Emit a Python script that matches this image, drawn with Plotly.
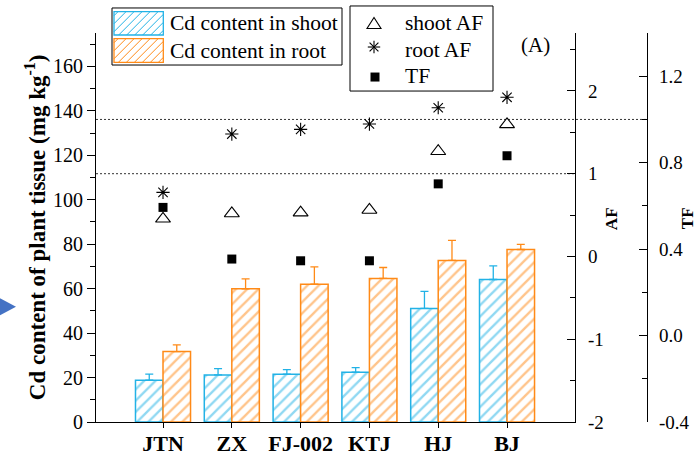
import plotly.graph_objects as go

# ---------------- data ----------------
cultivars = ["JTN", "ZX", "FJ-002", "KTJ", "HJ", "BJ"]
cd_shoot = [18.8, 21.2, 21.5, 22.4, 51.1, 64.1]
cd_shoot_err = [2.7, 2.8, 2.1, 2.1, 7.7, 6.1]
cd_root = [31.7, 59.9, 62.0, 64.6, 72.7, 77.6]
cd_root_err = [3.0, 4.5, 7.8, 4.9, 9.0, 2.3]
shoot_af = [0.455, 0.52, 0.53, 0.562, 1.271, 1.596]
root_af = [0.774, 1.479, 1.536, 1.60, 1.797, 1.923]
tf = [0.593, 0.354, 0.346, 0.346, 0.702, 0.832]

af_tickvals = [-2, -1, 0, 1, 2]
af_ticktext = ["-2", "-1", "0", "1", "2"]
tf_tickvals = [-0.4, 0.0, 0.4, 0.8, 1.2]
tf_ticktext = ["-0.4", "0.0", "0.4", "0.8", "1.2"]

# ---------------- geometry ----------------
W, H = 699, 458
L, R, T, B = 96, 52, 33, 36.3
PW, PH = W - L - R, H - T - B
X_AXIS_END = 575  # pixel x of AF axis


def px(x):
    return (x - L) / PW


def py(y):
    return (H - B - y) / PH


BLUE = "#22b2e6"
ORANGE = "#ff8a17"
FONT = "Liberation Serif, Times New Roman, serif"

fig = go.Figure()

fig.add_trace(go.Bar(
    x=cultivars, y=cd_shoot, name="Cd content in shoot", offset=-0.4, width=0.4,
    marker=dict(color="white", line=dict(color=BLUE, width=1.5),
                pattern=dict(shape="/", fgcolor=BLUE, bgcolor="white", size=8, solidity=0.3)),
    error_y=dict(type="data", array=cd_shoot_err, arrayminus=[0] * len(cd_shoot_err),
                 symmetric=False, color=BLUE, thickness=1.3, width=4),
    showlegend=False,
))
fig.add_trace(go.Bar(
    x=cultivars, y=cd_root, name="Cd content in root", offset=0, width=0.4,
    marker=dict(color="white", line=dict(color=ORANGE, width=1.5),
                pattern=dict(shape="/", fgcolor=ORANGE, bgcolor="white", size=8, solidity=0.3)),
    error_y=dict(type="data", array=cd_root_err, arrayminus=[0] * len(cd_root_err),
                 symmetric=False, color=ORANGE, thickness=1.3, width=4),
    showlegend=False,
))

fig.add_trace(go.Scatter(
    x=cultivars, y=shoot_af, yaxis="y2", mode="markers", name="shoot AF",
    marker=dict(symbol="triangle-up-open", size=13, color="black", line=dict(width=1.1)),
    showlegend=False,
))
fig.add_trace(go.Scatter(
    x=cultivars, y=root_af, yaxis="y2", mode="markers", name="root AF",
    marker=dict(symbol="asterisk-open", size=11, color="black", line=dict(width=1.1)),
    showlegend=False,
))
fig.add_trace(go.Scatter(
    x=cultivars, y=tf, yaxis="y3", mode="markers", name="TF",
    marker=dict(symbol="square", size=9, color="black"),
    showlegend=False,
))

dom_end = (X_AXIS_END - L) / PW

fig.update_layout(
    width=W, height=H,
    margin=dict(l=L, r=R, t=T, b=B, autoexpand=False),
    paper_bgcolor="white", plot_bgcolor="white",
    barmode="overlay",
    font=dict(family=FONT, color="black", size=20),
    showlegend=False,
    xaxis=dict(
        domain=[0, dom_end], type="category", range=[-0.974, 5.988],
        showline=True, linecolor="black", linewidth=1.2,
        ticks="outside", ticklen=5, tickwidth=1.2, tickcolor="black",
        tickfont=dict(family=FONT, size=22, weight="bold"), ticklabelstandoff=-4,
        showgrid=False, zeroline=False,
    ),
    yaxis=dict(
        range=[0, 175], dtick=20, tick0=0,
        showline=True, linecolor="black", linewidth=1.2,
        ticks="outside", ticklen=8, tickwidth=1.2, tickcolor="black",
        minor=dict(dtick=10, ticks="outside", ticklen=5, tickwidth=1.2, tickcolor="black"),
        tickfont=dict(family=FONT, size=20),
        showgrid=False, zeroline=False,
    ),
    yaxis2=dict(
        overlaying="y", anchor="x", side="right",
        range=[-2, 2.7], tickmode="array", tickvals=af_tickvals, ticktext=af_ticktext,
        showline=True, linecolor="black", linewidth=1.2,
        ticks="inside", ticklen=8, tickwidth=1.2, tickcolor="black",
        minor=dict(dtick=0.5, tick0=0, ticks="inside", ticklen=5, tickwidth=1.2, tickcolor="black"),
        tickfont=dict(family=FONT, size=19), ticklabelstandoff=8,
        showgrid=False, zeroline=False,
    ),
    yaxis3=dict(
        overlaying="y", anchor="free", position=1.0, side="right",
        range=[-0.4, 1.4], tickmode="array", tickvals=tf_tickvals, ticktext=tf_ticktext,
        showline=True, linecolor="black", linewidth=1.2,
        ticks="inside", ticklen=8, tickwidth=1.2, tickcolor="black",
        minor=dict(dtick=0.2, tick0=0, ticks="inside", ticklen=5, tickwidth=1.2, tickcolor="black"),
        tickfont=dict(family=FONT, size=19), ticklabelstandoff=7,
        showgrid=False, zeroline=False,
    ),
)

shapes = []
# reference lines: TF = 1 (to TF axis), AF = 1 (to AF axis)
shapes.append(dict(type="line", xref="paper", yref="y3", x0=0, x1=1, y0=1, y1=1,
                   line=dict(color="#333333", width=1, dash="2px,2px"), layer="below"))
shapes.append(dict(type="line", xref="paper", yref="y2", x0=0, x1=dom_end, y0=1, y1=1,
                   line=dict(color="#333333", width=1, dash="2px,2px"), layer="below"))

# legend 1 (bars)
shapes.append(dict(type="rect", xref="paper", yref="paper", x0=px(112), x1=px(342), y0=py(8), y1=py(65),
                   line=dict(color="black", width=1), fillcolor="white", layer="above"))


def hatch_patch(x0, y0, x1, y1, color, step=8):
    out = [dict(type="rect", xref="paper", yref="paper", x0=px(x0), x1=px(x1), y0=py(y0), y1=py(y1),
                line=dict(color=color, width=1.3), fillcolor="white", layer="above")]
    k = x0 + y0 + step / 2
    while k < x1 + y1:
        lo = max(x0, k - y1)
        hi = min(x1, k - y0)
        if hi > lo:
            out.append(dict(type="line", xref="paper", yref="paper",
                            x0=px(lo), y0=py(k - lo), x1=px(hi), y1=py(k - hi),
                            line=dict(color=color, width=1), layer="above"))
        k += step
    return out


shapes += hatch_patch(114, 11.7, 163.3, 35, BLUE)
shapes += hatch_patch(114, 38.7, 163.3, 62.3, ORANGE)

# legend 2 (markers)
shapes.append(dict(type="rect", xref="paper", yref="paper", x0=px(350), x1=px(493), y0=py(6), y1=py(91),
                   line=dict(color="black", width=1), fillcolor="white", layer="above"))
shapes.append(dict(type="path", xref="paper", yref="paper",
                   path=f"M {px(367)},{py(28.5)} L {px(381)},{py(28.5)} L {px(374)},{py(17.5)} Z",
                   line=dict(color="black", width=1.1), fillcolor="white", layer="above"))
ax, ay, r, d = 374, 47, 6.2, 4.4
for (x0, y0, x1, y1) in [(ax, ay - r, ax, ay + r), (ax - r, ay, ax + r, ay),
                         (ax - d, ay - d, ax + d, ay + d), (ax - d, ay + d, ax + d, ay - d)]:
    shapes.append(dict(type="line", xref="paper", yref="paper", x0=px(x0), y0=py(y0), x1=px(x1), y1=py(y1),
                       line=dict(color="black", width=1.1), layer="above"))
shapes.append(dict(type="rect", xref="paper", yref="paper", x0=px(370.5), x1=px(379.5), y0=py(72.5), y1=py(81.5),
                   line=dict(color="black", width=0), fillcolor="black", layer="above"))

# blue arrow at left edge
shapes.append(dict(type="path", xref="paper", yref="paper",
                   path=f"M {px(0)},{py(298)} L {px(16)},{py(306.5)} L {px(0)},{py(315)} Z",
                   fillcolor="#4472c4", line=dict(width=0)))

fig.update_layout(shapes=shapes)

annotations = [
    dict(text="Cd content in shoot", x=px(168), y=py(23.5), xref="paper", yref="paper",
         xanchor="left", yanchor="middle", showarrow=False, font=dict(family=FONT, size=21.5)),
    dict(text="Cd content in root", x=px(168), y=py(50.5), xref="paper", yref="paper",
         xanchor="left", yanchor="middle", showarrow=False, font=dict(family=FONT, size=21.5)),
    dict(text="shoot AF", x=px(403), y=py(23.5), xref="paper", yref="paper",
         xanchor="left", yanchor="middle", showarrow=False, font=dict(family=FONT, size=21.5)),
    dict(text="root AF", x=px(403), y=py(49.5), xref="paper", yref="paper",
         xanchor="left", yanchor="middle", showarrow=False, font=dict(family=FONT, size=21.5)),
    dict(text="TF", x=px(403), y=py(76), xref="paper", yref="paper",
         xanchor="left", yanchor="middle", showarrow=False, font=dict(family=FONT, size=21.5)),
    dict(text="(A)", x=px(519), y=py(45), xref="paper", yref="paper",
         xanchor="left", yanchor="middle", showarrow=False, font=dict(family=FONT, size=21)),
    dict(text="<b>Cd content of plant tissue (mg kg<sup>-1</sup>)</b>", x=px(35), y=py(227),
         xref="paper", yref="paper", xanchor="center", yanchor="middle", textangle=-90,
         showarrow=False, font=dict(family=FONT, size=23)),
    dict(text="<b>AF</b>", x=px(611), y=py(219), xref="paper", yref="paper",
         xanchor="center", yanchor="middle", textangle=-90, showarrow=False,
         font=dict(family=FONT, size=17)),
    dict(text="<b>TF</b>", x=px(687), y=py(218), xref="paper", yref="paper",
         xanchor="center", yanchor="middle", textangle=-90, showarrow=False,
         font=dict(family=FONT, size=17)),
]
fig.update_layout(annotations=annotations)

fig.write_html("out.html")
